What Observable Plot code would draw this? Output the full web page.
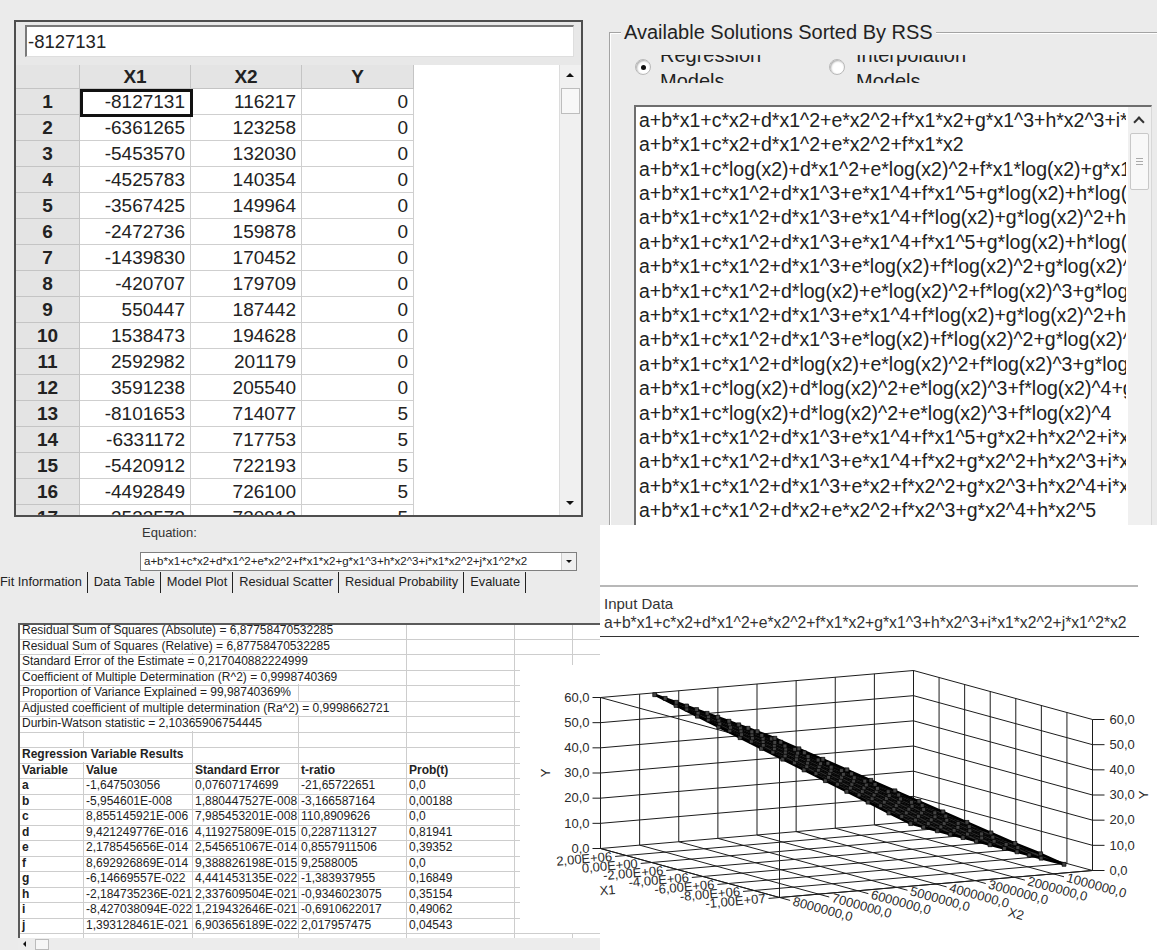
<!DOCTYPE html>
<html>
<head>
<meta charset="utf-8">
<script src="https://cdn.jsdelivr.net/npm/d3@7"></script>
<script src="https://cdn.jsdelivr.net/npm/@observablehq/plot@0.6"></script>
<style>
html,body{margin:0;padding:0}
body{width:1157px;height:950px;overflow:hidden;position:relative;background:#ebebeb;font-family:"Liberation Sans",Arial,sans-serif;color:#222}
div{box-sizing:border-box}
</style>
</head>
<body>
<script>
// ---------------- data ----------------
const columnNames = ["X1", "X2", "Y"];
const tableX1 = [-8127131,-6361265,-5453570,-4525783,-3567425,-2472736,-1439830,-420707,550447,1538473,2592982,3591238,-8101653,-6331172,-5420912,-4492849,-3533573];
const tableX2 = [116217,123258,132030,140354,149964,159878,170452,179709,187442,194628,201179,205540,714077,717753,722193,726100,730912];
const tableY  = [0,0,0,0,0,0,0,0,0,0,0,0,5,5,5,5,5];

const groupTitle = "Available Solutions Sorted By RSS";
const radioLabels = [["Regression", "Models"], ["Interpolation", "Models"]];
const solutions = [
 "a+b*x1+c*x2+d*x1^2+e*x2^2+f*x1*x2+g*x1^3+h*x2^3+i*x1*x2^2+j*x1^2*x2",
 "a+b*x1+c*x2+d*x1^2+e*x2^2+f*x1*x2",
 "a+b*x1+c*log(x2)+d*x1^2+e*log(x2)^2+f*x1*log(x2)+g*x1^3+h*log(x2)^3",
 "a+b*x1+c*x1^2+d*x1^3+e*x1^4+f*x1^5+g*log(x2)+h*log(x2)^2+i*log(x2)^3",
 "a+b*x1+c*x1^2+d*x1^3+e*x1^4+f*log(x2)+g*log(x2)^2+h*log(x2)^3",
 "a+b*x1+c*x1^2+d*x1^3+e*x1^4+f*x1^5+g*log(x2)+h*log(x2)^2+i*log(x2)^3+j*log(x2)^4",
 "a+b*x1+c*x1^2+d*x1^3+e*log(x2)+f*log(x2)^2+g*log(x2)^3",
 "a+b*x1+c*x1^2+d*log(x2)+e*log(x2)^2+f*log(x2)^3+g*log(x2)^4",
 "a+b*x1+c*x1^2+d*x1^3+e*x1^4+f*log(x2)+g*log(x2)^2+h*log(x2)^3+i*log(x2)^4",
 "a+b*x1+c*x1^2+d*x1^3+e*log(x2)+f*log(x2)^2+g*log(x2)^3+h*log(x2)^4",
 "a+b*x1+c*x1^2+d*log(x2)+e*log(x2)^2+f*log(x2)^3+g*log(x2)^4+h*log(x2)^5",
 "a+b*x1+c*log(x2)+d*log(x2)^2+e*log(x2)^3+f*log(x2)^4+g*log(x2)^5",
 "a+b*x1+c*log(x2)+d*log(x2)^2+e*log(x2)^3+f*log(x2)^4",
 "a+b*x1+c*x1^2+d*x1^3+e*x1^4+f*x1^5+g*x2+h*x2^2+i*x2^3",
 "a+b*x1+c*x1^2+d*x1^3+e*x1^4+f*x2+g*x2^2+h*x2^3+i*x2^4",
 "a+b*x1+c*x1^2+d*x1^3+e*x2+f*x2^2+g*x2^3+h*x2^4+i*x2^5",
 "a+b*x1+c*x1^2+d*x2+e*x2^2+f*x2^3+g*x2^4+h*x2^5"
];
const equationLabel = "Equation:";
const equationText = "a+b*x1+c*x2+d*x1^2+e*x2^2+f*x1*x2+g*x1^3+h*x2^3+i*x1*x2^2+j*x1^2*x2";
const tabs = ["Fit Information", "Data Table", "Model Plot", "Residual Scatter", "Residual Probability", "Evaluate"];
const fitLines = [
 "Residual Sum of Squares (Absolute) = 6,87758470532285",
 "Residual Sum of Squares (Relative) = 6,87758470532285",
 "Standard Error of the Estimate = 0,217040882224999",
 "Coefficient of Multiple Determination (R^2) = 0,9998740369",
 "Proportion of Variance Explained = 99,98740369%",
 "Adjusted coefficient of multiple determination (Ra^2) = 0,9998662721",
 "Durbin-Watson statistic = 2,10365906754445"
];
const resultsTitle = "Regression Variable Results";
const resultsHeader = ["Variable", "Value", "Standard Error", "t-ratio", "Prob(t)"];
const varNames = ["a","b","c","d","e","f","g","h","i","j"];
const varValues = ["-1,647503056","-5,954601E-008","8,855145921E-006","9,421249776E-016","2,178545656E-014","8,692926869E-014","-6,14669557E-022","-2,184735236E-021","-8,427038094E-022","1,393128461E-021"];
const varStdErr = ["0,07607174699","1,880447527E-008","7,985453201E-008","4,119275809E-015","2,545651067E-014","9,388826198E-015","4,441453135E-022","2,337609504E-021","1,219432646E-021","6,903656189E-022"];
const varTRatio = ["-21,65722651","-3,166587164","110,8909626","0,2287113127","0,8557911506","9,2588005","-1,383937955","-0,9346023075","-0,6910622017","2,017957475"];
const varProb = ["0,0","0,00188","0,0","0,81941","0,39352","0,0","0,16849","0,35154","0,49062","0,04543"];

const chartTitle = "Input Data";
const chartSubtitle = "a+b*x1+c*x2+d*x1^2+e*x2^2+f*x1*x2+g*x1^3+h*x2^3+i*x1*x2^2+j*x1^2*x2";

// 3D scatter: Y levels and, per level, the X2 of each of the 12 X1 positions
const yLevels = [0,5,10,15,20,25,30,35,40,45,50,55,60];
const x2AtLevel = [
 [116217,123258,132030,140354,149964,159878,170452,179709,187442,194628,201179,205540],
 [714077,717753,722193,726100,730912,735500,740000,744500,749000,753500,758000,762000],
 [1370000,1357000,1351000,1345000,1338000,1331000,1324000,1318000,1312000,1306000,1300000,1294000],
 [1984000,1960000,1948000,1936000,1923000,1910000,1897000,1885000,1874000,1862000,1850000,1839000],
 [2597000,2562000,2544000,2526000,2509000,2488000,2470000,2452000,2435000,2418000,2401000,2385000],
 [3211000,3164000,3141000,3117000,3094000,3067000,3043000,3019000,2997000,2975000,2952000,2930000],
 [3824000,3766000,3737000,3708000,3679000,3646000,3615000,3586000,3558000,3531000,3502000,3476000],
 [4438000,4369000,4334000,4299000,4264000,4224000,4188000,4153000,4120000,4087000,4053000,4021000],
 [5052000,4971000,4931000,4890000,4849000,4803000,4761000,4720000,4682000,4643000,4603000,4566000],
 [5665000,5573000,5527000,5481000,5434000,5382000,5334000,5287000,5243000,5200000,5154000,5112000],
 [6279000,6175000,6124000,6072000,6019000,5961000,5906000,5854000,5805000,5756000,5705000,5657000],
 [6893000,6778000,6720000,6663000,6604000,6539000,6479000,6421000,6366000,6312000,6255000,6203000],
 [7506000,7380000,7317000,7254000,7190000,7118000,7052000,6988000,6928000,6868000,6806000,6748000]
];
const x1Columns = tableX1.slice(0, 12);

const x1Domain = [-1e7, 4e6];
const x2Domain = [0, 8e6];
const yDomain = [0, 60];
const x1Ticks = [2e6, 0, -2e6, -4e6, -6e6, -8e6, -1e7];
const x1TickLabels = ["2,00E+06","0,00E+00","-2,00E+06","-4,00E+06","-6,00E+06","-8,00E+06","-1,00E+07"];
const x2Ticks = [8e6, 7e6, 6e6, 5e6, 4e6, 3e6, 2e6, 1e6];
const x2TickLabels = ["8000000,0","7000000,0","6000000,0","5000000,0","4000000,0","3000000,0","2000000,0","1000000,0"];
const yTicks = [0, 10, 20, 30, 40, 50, 60];
const yTickLabels = ["0,0","10,0","20,0","30,0","40,0","50,0","60,0"];
const axisTitles = {x1: "X1", x2: "X2", y: "Y"};

// ---------------- helpers ----------------
const body = document.body;
function box(parent, css, text) {
  const d = document.createElement("div");
  d.style.cssText = "position:absolute;" + css;
  if (text !== undefined) d.textContent = text;
  parent.appendChild(d);
  return d;
}
function tri(parent, x, y, dir, s) {
  const css = dir === "up"
    ? `border-left:${s}px solid transparent;border-right:${s}px solid transparent;border-bottom:${s}px solid #111;`
    : dir === "down"
    ? `border-left:${s}px solid transparent;border-right:${s}px solid transparent;border-top:${s}px solid #111;`
    : `border-top:${s}px solid transparent;border-bottom:${s}px solid transparent;border-right:${s}px solid #111;`;
  box(parent, `left:${x}px;top:${y}px;width:0;height:0;${css}`);
}

// ---------------- left: data grid ----------------
box(body, "left:14px;top:20px;width:569px;height:497px;border:2px solid #4e4e4e;background:#e8e8e8;");
box(body, "left:25px;top:25px;width:549px;height:32px;background:#fff;border-top:2px solid #7a7a7a;border-left:2px solid #7a7a7a;border-right:1px solid #dedede;border-bottom:1px solid #dedede;font-size:18.5px;line-height:29px;padding-left:1px;color:#222;white-space:nowrap;", String(tableX1[0]));

const GH = 450;
const grid = box(body, `left:16px;top:65px;width:565px;height:${GH}px;overflow:hidden;background:#fff;`);
const colL = [0, 64, 175, 286], colW = [64, 111, 111, 112];
const hdr = ["", ...columnNames];
hdr.forEach((h, c) => {
  box(grid, `left:${colL[c]}px;top:0;width:${colW[c]}px;height:24px;background:#e4e4e4;border-right:1px solid #c4c4c4;border-bottom:1px solid #c4c4c4;font-weight:bold;font-size:19px;line-height:23px;text-align:center;`, h);
});
for (let r = 0; r < tableX1.length; r++) {
  const top = 24 + r * 26;
  const h = Math.min(26, GH - top);
  const rh = box(grid, `left:0;top:${top}px;width:64px;height:${h}px;overflow:hidden;background:#e4e4e4;border-right:1px solid #c4c4c4;`);
  box(rh, "left:0;top:0;width:63px;height:26px;border-bottom:1px solid #c4c4c4;font-weight:bold;font-size:19px;line-height:25px;text-align:center;", String(r + 1));
  [tableX1[r], tableX2[r], tableY[r]].forEach((v, k) => {
    const c = box(grid, `left:${colL[k+1]}px;top:${top}px;width:${colW[k+1]}px;height:${h}px;overflow:hidden;background:#fff;border-right:1px solid #cfcfcf;`);
    box(c, `left:0;top:0;width:${colW[k+1]-1}px;height:26px;border-bottom:1px solid #cfcfcf;font-size:19px;line-height:25px;text-align:right;padding-right:5px;color:#222;`, String(v));
  });
}
box(grid, "left:64px;top:24px;width:113px;height:28px;border:3px solid #111;");
const vs = box(grid, `left:543px;top:0;width:22px;height:${GH}px;background:#f0f0f0;border-left:1px solid #dcdcdc;`);
tri(vs, 6, 8, "up", 4);
box(vs, "left:1px;top:23px;width:19px;height:26px;background:#f7f7f7;border:1px solid #bdbdbd;");
tri(vs, 6, GH - 14, "down", 4);

// equation combo
box(body, "left:142px;top:525px;font-size:13px;line-height:16px;color:#333;", equationLabel);
const combo = box(body, "left:140px;top:552px;width:437px;height:19px;background:#fff;border:1px solid #7f7f7f;overflow:hidden;");
box(combo, "left:3px;top:0;width:415px;height:17px;font-size:11.5px;line-height:17px;white-space:nowrap;overflow:hidden;color:#222;", equationText);
const cbtn = box(combo, "right:0;top:0;width:15px;height:17px;background:#f0f0f0;border-left:1px solid #ccc;");
tri(cbtn, 3.5, 7, "down", 3.5);

// tabs
const tabBar = box(body, "left:0;top:572px;height:22px;white-space:nowrap;font-size:12.8px;line-height:20px;color:#222;");
tabs.forEach((t, i) => {
  const s = document.createElement("span");
  s.textContent = t;
  s.style.cssText = `display:inline-block;height:21px;padding:0 5px 0 ${i ? 6 : 0}px;border-right:1px solid #222;`;
  tabBar.appendChild(s);
});

// fit information grid
const stats = box(body, "left:18px;top:623px;width:582px;height:315px;background:#fff;border-top:2px solid #5a5a5a;border-left:2px solid #5a5a5a;overflow:hidden;");
const SX = 20, SY = 625, RH = 15.5, statTop = 623;
for (let i = 1; i <= 20; i++) box(stats, `left:0;top:${statTop + i*RH - SY}px;width:600px;height:0;border-top:1px solid #cdcdcd;`);
[83, 192, 298, 406, 514, 572].forEach(x => box(stats, `left:${x - SX}px;top:0;width:0;height:320px;border-left:1px solid #cdcdcd;`));
function statText(row, x, text, bold, cover) {
  return box(stats, `left:${x - SX}px;top:${statTop + row*RH + 1 - SY}px;height:13.5px;font-size:12px;line-height:13.5px;white-space:nowrap;color:#222;${bold ? "font-weight:bold;" : ""}${cover ? "background:#fff;padding-right:2px;" : ""}`, text);
}
fitLines.forEach((t, i) => statText(i, 22, t, false, true));
statText(8, 22, resultsTitle, true, true);
const colX = [22, 86, 195, 301, 409];
resultsHeader.forEach((h, k) => statText(9, colX[k], h, true, false));
varNames.forEach((n, i) => {
  statText(10 + i, colX[0], n, true, false);
  statText(10 + i, colX[1], varValues[i]);
  statText(10 + i, colX[2], varStdErr[i]);
  statText(10 + i, colX[3], varTRatio[i]);
  statText(10 + i, colX[4], varProb[i]);
});
const hs = box(body, "left:18px;top:938px;width:582px;height:12px;background:#ececec;");
tri(hs, 5, 2.5, "left", 3.5);
box(hs, "left:17px;top:1px;width:14px;height:11px;background:#f6f6f6;border:1px solid #bbb;");

// ---------------- right: solutions list ----------------
box(body, "left:609px;top:32px;width:570px;height:520px;border:1px solid #a3a3a3;box-shadow:inset 1px 1px 0 #fff;");
box(body, "left:621px;top:23px;padding:0 3px;background:#ebebeb;font-size:20px;line-height:18px;color:#222;white-space:nowrap;", groupTitle);
[[635, true], [829, false]].forEach(([x, sel]) => {
  box(body, `left:${x}px;top:59px;width:16px;height:16px;border-radius:50%;background:#fff;border:1px solid #b8b8b8;box-shadow:inset 1px 1px 2px #aaa;`);
  if (sel) box(body, `left:${x + 5.5}px;top:64.5px;width:5px;height:5px;border-radius:50%;background:#111;`);
});
[[660, radioLabels[0]], [856, radioLabels[1]]].forEach(([x, lines]) => {
  const c1 = box(body, `left:${x}px;top:55px;width:175px;height:12px;overflow:hidden;`);
  box(c1, "left:0;top:-6.95px;font-size:20px;line-height:14px;white-space:nowrap;color:#222;", lines[0]);
  const c2 = box(body, `left:${x}px;top:73px;width:175px;height:10px;overflow:hidden;`);
  box(c2, "left:0;top:1.05px;font-size:20px;line-height:14px;white-space:nowrap;color:#222;", lines[1]);
});
const list = box(body, "left:634px;top:105px;width:518px;height:440px;background:#fff;border-top:2px solid #6e6e6e;border-left:2px solid #6e6e6e;border-right:1px solid #d8d8d8;overflow:hidden;");
const listClip = box(list, "left:3px;top:0.8px;width:487px;height:440px;overflow:hidden;");
solutions.forEach((s, i) => box(listClip, `left:0;top:${i*24.4}px;width:487px;height:24.4px;overflow:hidden;font-size:19.5px;line-height:24.4px;white-space:nowrap;color:#222;`, s));
const lsb = box(list, "left:492px;top:0;width:23px;height:440px;background:#f0f0f0;");
box(lsb, "left:7px;top:11px;width:8px;height:8px;border-left:2px solid #333;border-top:2px solid #333;transform:rotate(45deg);");
box(lsb, "left:2px;top:26px;width:19px;height:57px;background:#f8f8f8;border:1px solid #c8c8c8;border-radius:2px;");
[51, 54, 57].forEach(y => box(lsb, `left:8px;top:${y}px;width:7px;height:0;border-top:1px solid #aaa;`));

// ---------------- chart panel ----------------
box(body, "left:600px;top:525px;width:557px;height:425px;background:#fff;");
box(body, "left:520px;top:665px;width:80px;height:268px;background:#fff;");
box(body, "left:600px;top:585px;width:538px;height:0;border-top:2px solid #b8b8b8;");
box(body, "left:604px;top:595px;font-size:15px;line-height:17px;color:#333;white-space:nowrap;", chartTitle);
box(body, "left:604px;top:614px;font-size:15.7px;line-height:18px;color:#333;white-space:nowrap;", chartSubtitle);
box(body, "left:600px;top:636px;width:539px;height:0;border-top:1px solid #333;");

// ---------------- 3D model plot (oblique projection) ----------------
const W = 637, H = 310;
const O = [80, 208], E1 = [179, 49], E2 = [313, -27], EY = 151;
function proj(x1, x2, y) {
  const a = (x1Domain[1] - x1) / (x1Domain[1] - x1Domain[0]);
  const b = (x2Domain[1] - x2) / (x2Domain[1] - x2Domain[0]);
  const c = (y - yDomain[0]) / (yDomain[1] - yDomain[0]);
  return [O[0] + a * E1[0] + b * E2[0], O[1] + a * E1[1] + b * E2[1] - c * EY];
}
const segs = [];
const S = (p, q) => segs.push({ax: p[0], ay: p[1], bx: q[0], by: q[1]});
const len = v => Math.hypot(v[0], v[1]);
const u1 = [E1[0] / len(E1), E1[1] / len(E1)];
const u2 = [E2[0] / len(E2), E2[1] / len(E2)];
const ang1 = Math.atan2(E1[1], E1[0]) * 180 / Math.PI;
const ang2 = Math.atan2(E2[1], E2[0]) * 180 / Math.PI;
const [x1min, x1max] = x1Domain, [x2min, x2max] = x2Domain, [ymin, ymax] = yDomain;
const TL = 11;
yTicks.forEach(y => S(proj(x1max, x2max, y), proj(x1max, x2min, y)));
[x2max, ...x2Ticks, x2min].forEach(v => S(proj(x1max, v, ymin), proj(x1max, v, ymax)));
yTicks.forEach(y => S(proj(x1max, x2min, y), proj(x1min, x2min, y)));
[x1max, ...x1Ticks].forEach(v => S(proj(v, x2min, ymin), proj(v, x2min, ymax)));
x1Ticks.forEach(v => { const p = proj(v, x2max, ymin); S([p[0] - u2[0]*TL, p[1] - u2[1]*TL], proj(v, x2min, ymin)); });
x2Ticks.forEach(v => { const p = proj(x1min, v, ymin); S(proj(x1max, v, ymin), [p[0] + u1[0]*TL, p[1] + u1[1]*TL]); });
S(proj(x1max, x2max, ymin), proj(x1min, x2max, ymin));
S(proj(x1min, x2max, ymin), proj(x1min, x2min, ymin));
S(proj(x1min, x2max, ymin), proj(x1min, x2max, ymax));
S(proj(x1max, x2max, ymax), proj(x1min, x2max, ymax));
yTicks.forEach(y => {
  const p = proj(x1max, x2max, y); S([p[0] - 8, p[1]], p);
  const q = proj(x1min, x2min, y); S(q, [q[0] + 12, q[1]]);
});

const x1Lab = x1Ticks.map((v, i) => { const p = proj(v, x2max, ymin); return {x: p[0] - u2[0]*(TL+3), y: p[1] - u2[1]*(TL+3), t: x1TickLabels[i]}; });
const x2Lab = x2Ticks.map((v, i) => { const p = proj(x1min, v, ymin); return {x: p[0] + u1[0]*(TL+3), y: p[1] + u1[1]*(TL+3), t: x2TickLabels[i]}; });
const yLabL = yTicks.map((y, i) => { const p = proj(x1max, x2max, y); return {x: p[0] - 11, y: p[1], t: yTickLabels[i]}; });
const yLabR = yTicks.map((y, i) => { const p = proj(x1min, x2min, y); return {x: p[0] + 17, y: p[1], t: yTickLabels[i]}; });
const lb = proj(x1max, x2max, ymin);
const x2TitleBase = proj(x1min, 4e6, ymin);
const midY = (ymin + ymax) / 2;
const yTitleL = proj(x1max, x2max, midY), yTitleR = proj(x1min, x2min, midY);

const pts = [];
yLevels.forEach((yv, li) => x1Columns.forEach((x1, ci) => {
  const p = proj(x1, x2AtLevel[li][ci], yv);
  pts.push({px: p[0], py: p[1], level: li, col: ci});
}));
const nC = x1Columns.length, nL = yLevels.length;
const at = (l, c) => pts[l * nC + c];
const outline = [];
for (let c = 0; c < nC; c++) outline.push(at(0, c));
for (let l = 1; l < nL; l++) outline.push(at(l, nC - 1));
for (let c = nC - 2; c >= 0; c--) outline.push(at(nL - 1, c));
for (let l = nL - 2; l > 0; l--) outline.push(at(l, 0));

const txt = {fontSize: 13, fill: "#2a2a2a"};
const chart = Plot.plot({
  width: W, height: H, margin: 0,
  x: {domain: [0, W], range: [0, W], axis: null},
  y: {domain: [0, H], range: [0, H], axis: null},
  style: {fontFamily: "'Liberation Sans', Arial, sans-serif", background: "transparent", overflow: "visible"},
  marks: [
    Plot.link(segs, {x1: "ax", y1: "ay", x2: "bx", y2: "by", stroke: "#1c1c1c", strokeWidth: 1}),
    Plot.line(outline, {x: "px", y: "py", curve: "linear-closed", fill: "#2e2e2e", stroke: "#000", strokeWidth: 2.5}),
    Plot.line(pts, {x: "px", y: "py", z: "level", stroke: "#000", strokeWidth: 0.9}),
    Plot.line(pts, {x: "px", y: "py", z: "col", stroke: "#000", strokeWidth: 0.9}),
    Plot.dot(pts, {x: "px", y: "py", r: 2.2, symbol: "square", fill: "#444", stroke: "#000", strokeWidth: 0.7}),
    Plot.text(x1Lab, {x: "x", y: "y", text: "t", rotate: ang2, textAnchor: "end", ...txt}),
    Plot.text(x2Lab, {x: "x", y: "y", text: "t", rotate: ang1, textAnchor: "start", ...txt}),
    Plot.text(yLabL, {x: "x", y: "y", text: "t", textAnchor: "end", ...txt}),
    Plot.text(yLabR, {x: "x", y: "y", text: "t", textAnchor: "start", ...txt}),
    Plot.text([axisTitles.x1], {x: () => lb[0] + 7, y: () => lb[1] + 42, text: d => d, rotate: ang2, ...txt}),
    Plot.text([axisTitles.x2], {x: () => x2TitleBase[0] + 80, y: () => x2TitleBase[1] + 30, text: d => d, rotate: ang1, ...txt}),
    Plot.text([axisTitles.y], {x: () => yTitleL[0] - 55, y: () => yTitleL[1], text: d => d, rotate: -90, ...txt}),
    Plot.text([axisTitles.y], {x: () => yTitleR[0] + 51, y: () => yTitleR[1], text: d => d, rotate: -90, ...txt})
  ]
});
const holder = box(body, `left:520px;top:640px;width:${W}px;height:${H}px;`);
holder.appendChild(chart);
</script>
</body>
</html>
